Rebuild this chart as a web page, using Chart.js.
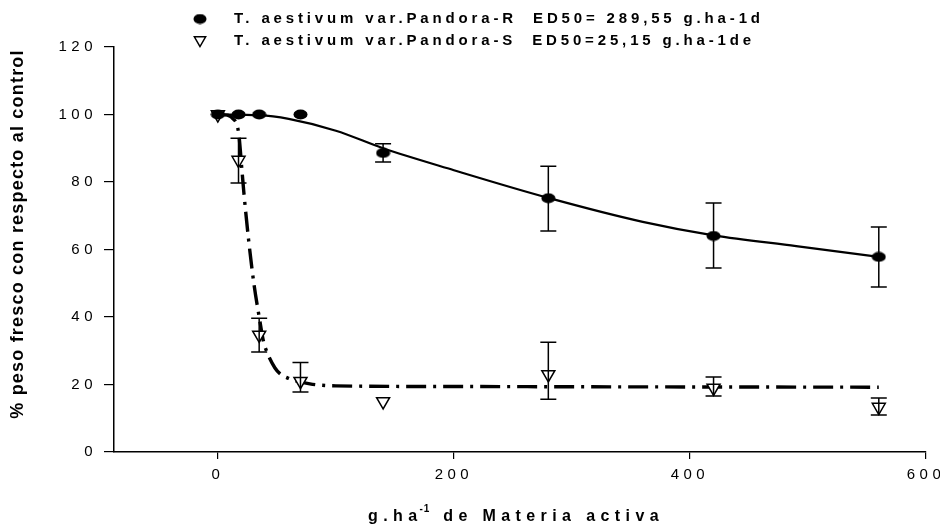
<!DOCTYPE html>
<html>
<head>
<meta charset="utf-8">
<script src="https://cdn.jsdelivr.net/npm/chart.js@4/dist/chart.umd.min.js"></script>
<style>
  html, body { margin: 0; padding: 0; background: #fff; }
  #wrap { width: 940px; height: 524px; position: relative; }
</style>
</head>
<body>
<div id="wrap"><canvas id="myChart"></canvas></div>
<script>
// doses (g.ha-1 of active ingredient)
var doses = [0, 17.5, 35, 70, 140, 280, 420, 560];

// Pandora-R : mean and error bar ends
var pandoraR = [100, 100, 100, 100, 88.6, 75.2, 64, 57.8];
var pandoraRLow = [null, null, null, null, 85.9, 65.5, 54.5, 48.9];
var pandoraRHigh = [null, null, null, null, 91.3, 84.7, 73.8, 66.7];

// Pandora-S : mean and error bar ends
var pandoraS = [100, 86.5, 34.7, 21, 15, 23, 19, 13.3];
var pandoraSLow = [null, 79.7, 29.6, 17.8, null, 15.6, 16.6, 11];
var pandoraSHigh = [null, 93, 39.6, 26.5, null, 32.5, 22.2, 16];

// fitted curves
var fitRDose = [0, 35, 60, 100, 140, 200, 280, 360, 420, 490, 560];
var fitR = [100, 99.8, 98.7, 95.2, 90, 83.5, 75.3, 68.2, 64.2, 61, 57.8];
var fitSDose = [0, 8, 12, 17.6, 20.4, 22, 26, 30.5, 35.5, 38.5, 41.6, 48.4, 53, 60, 78, 100, 200, 350, 560];
var fitS = [100, 99.8, 99, 94.5, 83.5, 77, 63, 50, 39, 33, 29.6, 24.9, 23.1, 21.8, 20.2, 19.6, 19.4, 19.3, 19.2];

var xTicks = [0, 200, 400, 600];
var legendLabels = [
  "T. aestivum var.Pandora-R  ED50= 289,55 g.ha-1d",
  "T. aestivum var.Pandora-S  ED50=25,15 g.ha-1de"
];
var yTitle = "% peso fresco con respecto al control";
var xTitle = ["g.ha", "-1", " de Materia activa"];

function pairs(xs, ys) {
  return xs.map(function (v, i) { return { x: v, y: ys[i] }; });
}

function ellipseMarker(w, h) {
  var c = document.createElement("canvas");
  c.width = w;
  c.height = h;
  var g = c.getContext("2d");
  g.fillStyle = "#000";
  g.beginPath();
  g.ellipse(w / 2, h / 2, w / 2 - 0.5, h / 2 - 0.5, 0, 0, Math.PI * 2);
  g.fill();
  return c;
}
var dot = ellipseMarker(15, 11);
var legendDot = ellipseMarker(14, 11);

var FONT = "'Liberation Sans', Arial, sans-serif";
Chart.defaults.font.family = FONT;
Chart.defaults.color = "#000";

var errorBars = {
  id: "errorBars",
  afterDatasetsDraw: function (chart) {
    var ctx = chart.ctx, x = chart.scales.x, y = chart.scales.y;
    ctx.save();
    ctx.strokeStyle = "#000";
    ctx.lineWidth = 1.5;
    [[pandoraRLow, pandoraRHigh], [pandoraSLow, pandoraSHigh]].forEach(function (s) {
      doses.forEach(function (d, i) {
        if (s[0][i] == null) return;
        var px = x.getPixelForValue(d);
        var y1 = y.getPixelForValue(s[0][i]);
        var y2 = y.getPixelForValue(s[1][i]);
        ctx.beginPath();
        ctx.moveTo(px, y1); ctx.lineTo(px, y2);
        ctx.moveTo(px - 8, y1); ctx.lineTo(px + 8, y1);
        ctx.moveTo(px - 8, y2); ctx.lineTo(px + 8, y2);
        ctx.stroke();
      });
    });
    ctx.restore();
  }
};

var texts = {
  id: "texts",
  beforeDraw: function (chart) {
    chart.ctx.letterSpacing = "4.5px"; // spaced tick labels
  },
  afterDraw: function (chart) {
    var ctx = chart.ctx;
    ctx.save();
    ctx.fillStyle = "#000";
    ctx.strokeStyle = "#000";

    // legend
    ctx.drawImage(legendDot, 200 - 7, 19 - 5.5);
    ctx.lineWidth = 1.5;
    ctx.fillStyle = "#fff";
    Chart.helpers.drawPoint(ctx, { pointStyle: "triangle", rotation: 180, radius: 6.5, borderWidth: 1.5 }, 200, 40);
    ctx.fillStyle = "#000";
    ctx.font = "bold 15px " + FONT;
    ctx.letterSpacing = "3.85px";
    ctx.textBaseline = "middle";
    ctx.textAlign = "left";
    ctx.fillText(legendLabels[0], 234, 19);
    ctx.fillText(legendLabels[1], 234, 41);

    // x title with superscript
    var big = "bold 16px " + FONT;
    var small = "bold 10px " + FONT;
    ctx.letterSpacing = "5.4px";
    ctx.font = big;
    var w0 = ctx.measureText(xTitle[0]).width;
    ctx.font = small;
    ctx.letterSpacing = "1px";
    var w1 = ctx.measureText(xTitle[1]).width;
    var sx = 368;
    ctx.textBaseline = "alphabetic";
    ctx.letterSpacing = "5.4px";
    ctx.font = big;
    ctx.fillText(xTitle[0], sx, 521);
    ctx.font = small;
    ctx.letterSpacing = "1px";
    ctx.fillText(xTitle[1], sx + w0 - 3, 512);
    ctx.font = big;
    ctx.letterSpacing = "5.4px";
    ctx.fillText(xTitle[2], sx + w0 + w1, 521);

    // y title
    ctx.translate(18, 234);
    ctx.rotate(-Math.PI / 2);
    ctx.font = "bold 18px " + FONT;
    ctx.letterSpacing = "1.2px";
    ctx.textAlign = "center";
    ctx.textBaseline = "middle";
    ctx.fillText(yTitle, 0, 0);
    ctx.restore();
  }
};

var ctx = document.getElementById("myChart").getContext("2d");

var myChart = new Chart(ctx, {
  type: "scatter",
  data: {
    datasets: [
      {
        label: legendLabels[0],
        data: pairs(doses, pandoraR),
        pointStyle: dot,
        pointRadius: 7,
        showLine: false
      },
      {
        label: legendLabels[1],
        data: pairs(doses, pandoraS),
        pointStyle: "triangle",
        rotation: 180,
        pointRadius: 7.5,
        backgroundColor: "#fff",
        borderColor: "#000",
        borderWidth: 1.5,
        showLine: false
      },
      {
        label: "fit R",
        data: pairs(fitRDose, fitR),
        showLine: true,
        borderColor: "#000",
        borderWidth: 2.2,
        pointRadius: 0,
        cubicInterpolationMode: "monotone",
        fill: false
      },
      {
        label: "fit S",
        data: pairs(fitSDose, fitS),
        showLine: true,
        borderColor: "#000",
        borderWidth: 3.4,
        borderDash: [20, 7, 3, 7],
        pointRadius: 0,
        cubicInterpolationMode: "monotone",
        fill: false
      }
    ]
  },
  options: {
    responsive: true,
    maintainAspectRatio: false,
    animation: false,
    layout: { padding: { top: 47, right: 14, left: 0, bottom: 0 } },
    plugins: {
      legend: { display: false },
      tooltip: { enabled: false }
    },
    scales: {
      x: {
        type: "linear",
        min: -88,
        max: 600,
        afterBuildTicks: function (s) {
          s.ticks = xTicks.map(function (v) { return { value: v }; });
        },
        afterFit: function (s) {
          s.height = 72;
          s.paddingLeft = 0;
          s.paddingRight = 0;
        },
        grid: { display: true, drawOnChartArea: false, color: "#000", lineWidth: 1.2, tickLength: 7 },
        border: { color: "#000", width: 1.5 },
        ticks: { font: { size: 15 }, padding: 7, maxRotation: 0, autoSkip: false }
      },
      y: {
        min: 0,
        max: 120,
        afterFit: function (s) {
          s.width = 114;
          s.paddingTop = 0;
          s.paddingBottom = 0;
        },
        grid: { display: true, drawOnChartArea: false, color: "#000", lineWidth: 1.2, tickLength: 10 },
        border: { color: "#000", width: 1.5 },
        ticks: { stepSize: 20, font: { size: 15 }, padding: 7 }
      }
    }
  },
  plugins: [errorBars, texts]
});
</script>
</body>
</html>
